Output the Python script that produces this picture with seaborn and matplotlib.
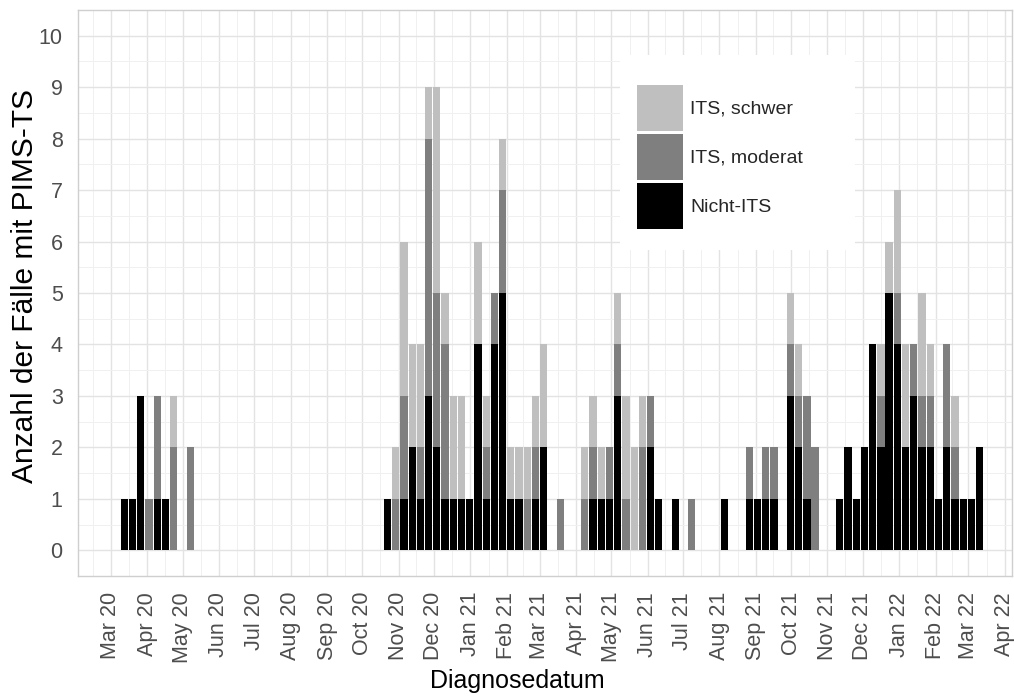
import numpy as np
import pandas as pd
import matplotlib
matplotlib.use("Agg")
import matplotlib.pyplot as plt
import matplotlib.dates as mdates
from matplotlib.ticker import MultipleLocator, FixedLocator
from matplotlib.patches import Patch, Rectangle
import seaborn as sns

# ---- data (weekly counts, first week starting 2020-03-09) ----
first_week = "2020-03-09"
categories = ["ITS, schwer", "ITS, moderat", "Nicht-ITS"]

nicht_its = [1, 1, 3, 0, 1, 1, 0, 0, 0, 0,
             0, 0, 0, 0, 0, 0, 0, 0, 0, 0,
             0, 0, 0, 0, 0, 0, 0, 0, 0, 0,
             0, 0, 1, 0, 1, 2, 1, 3, 2, 1,
             1, 1, 1, 4, 1, 4, 5, 1, 1, 0,
             1, 2, 0, 0, 0, 0, 0, 1, 1, 1,
             3, 0, 0, 0, 2, 1, 0, 1, 0, 0,
             0, 0, 0, 1, 0, 0, 1, 1, 1, 1,
             0, 3, 2, 1, 0, 0, 0, 1, 2, 1,
             2, 4, 2, 5, 4, 2, 3, 2, 2, 1,
             2, 1, 1, 1, 2]

its_moderat = [0, 0, 0, 1, 2, 0, 2, 0, 2, 0,
               0, 0, 0, 0, 0, 0, 0, 0, 0, 0,
               0, 0, 0, 0, 0, 0, 0, 0, 0, 0,
               0, 0, 0, 1, 2, 0, 1, 5, 3, 3,
               0, 0, 0, 0, 1, 1, 2, 0, 0, 1,
               1, 0, 0, 1, 0, 0, 1, 1, 0, 1,
               1, 1, 0, 2, 1, 0, 0, 0, 0, 1,
               0, 0, 0, 0, 0, 0, 1, 0, 1, 1,
               0, 1, 1, 2, 2, 0, 0, 0, 0, 0,
               0, 0, 1, 0, 1, 0, 1, 1, 1, 0,
               2, 1, 0, 0, 0]

its_schwer = [0, 0, 0, 0, 0, 0, 1, 0, 0, 0,
              0, 0, 0, 0, 0, 0, 0, 0, 0, 0,
              0, 0, 0, 0, 0, 0, 0, 0, 0, 0,
              0, 0, 0, 1, 3, 2, 2, 1, 4, 1,
              2, 2, 0, 2, 1, 0, 1, 1, 1, 1,
              1, 2, 0, 0, 0, 0, 1, 1, 1, 0,
              1, 2, 2, 1, 0, 0, 0, 0, 0, 0,
              0, 0, 0, 0, 0, 0, 0, 0, 0, 0,
              0, 1, 1, 0, 0, 0, 0, 0, 0, 0,
              0, 0, 1, 1, 2, 2, 0, 2, 1, 0,
              0, 1, 0, 0, 0]

colors = {"ITS, schwer": "#BFBFBF", "ITS, moderat": "#7F7F7F", "Nicht-ITS": "#000000"}

# ---- long table ----
weeks = pd.date_range(first_week, periods=len(nicht_its), freq="7D")
wnum = mdates.date2num(weeks.to_pydatetime())
rows = []
for cat, vals in zip(categories, [its_schwer, its_moderat, nicht_its]):
    for w, v in zip(wnum, vals):
        rows.append((float(w) + 3.5, cat, float(v)))
df = pd.DataFrame(rows, columns=["datum", "Kategorie", "Anzahl"])
lo, hi = float(wnum[0]), float(wnum[-1]) + 7.0

# ---- style ----
sns.set_style("white")
plt.rcParams["font.family"] = ["Liberation Sans", "DejaVu Sans"]

fig = plt.figure(figsize=(10.14, 6.97), dpi=100)
ax = fig.add_axes([0.0769, 0.1736, 0.921, 0.812])

sns.histplot(data=df, x="datum", weights="Anzahl", hue="Kategorie",
             hue_order=categories, multiple="stack", binwidth=7.0,
             binrange=(lo, hi), palette=colors, alpha=1, linewidth=0,
             shrink=0.88, legend=False, ax=ax)

ax.set_ylim(-0.5, 10.5)
ax.set_xlim(mdates.date2num(pd.Timestamp("2020-02-02")),
            mdates.date2num(pd.Timestamp("2022-04-07")))

ax.yaxis.set_major_locator(MultipleLocator(1))
ax.yaxis.set_minor_locator(MultipleLocator(0.5))
months = pd.date_range("2020-03-01", "2022-04-01", freq="MS")
mnum = mdates.date2num(months.to_pydatetime())
ax.xaxis.set_major_locator(FixedLocator(mnum))
ax.set_xticklabels([m.strftime("%b %y") for m in months], rotation=90)
mids = (mnum[:-1] + mnum[1:]) / 2
ax.xaxis.set_minor_locator(FixedLocator(np.concatenate([[mnum[0] - 15], mids, [mnum[-1] + 15]])))

ax.set_axisbelow(True)
ax.grid(which="major", color="#E3E3E3", linewidth=1.0)
ax.grid(which="minor", color="#F0F0F0", linewidth=0.7)
for s in ax.spines.values():
    s.set_color("#CFCFCF")
    s.set_linewidth(1.0)
ax.tick_params(axis="y", which="major", length=6, color="#D0D0D0", labelsize=15.5,
               labelcolor="#4D4D4D", width=0.9, pad=5)
ax.tick_params(axis="x", which="major", length=6.5, color="#D0D0D0", labelsize=15.5,
               labelcolor="#4D4D4D", width=0.9, pad=5)
ax.tick_params(which="minor", length=0)

ax.set_xlabel("Diagnosedatum", fontsize=18, color="black")
ax.xaxis.set_label_coords(0.47, -0.165)
ax.set_ylabel("Anzahl der Fälle mit PIMS-TS", fontsize=21.5, color="black")
ax.yaxis.set_label_coords(-0.042, 0.513)

# legend with white background box
ax.add_patch(Rectangle((0.580, 0.576), 0.252, 0.344, transform=ax.transAxes,
                       facecolor="white", edgecolor="none", zorder=3))
handles = [Patch(facecolor=colors[c], edgecolor="none") for c in categories]
leg = ax.legend(handles, categories, loc="upper left",
                bbox_to_anchor=(0.5985, 0.8675), frameon=False,
                fontsize=14, handlelength=2.37, handleheight=3.27,
                labelspacing=0.15, handletextpad=0.36, borderpad=0,
                borderaxespad=0)
leg.set_zorder(5)

fig.savefig("out.png", dpi=100)
